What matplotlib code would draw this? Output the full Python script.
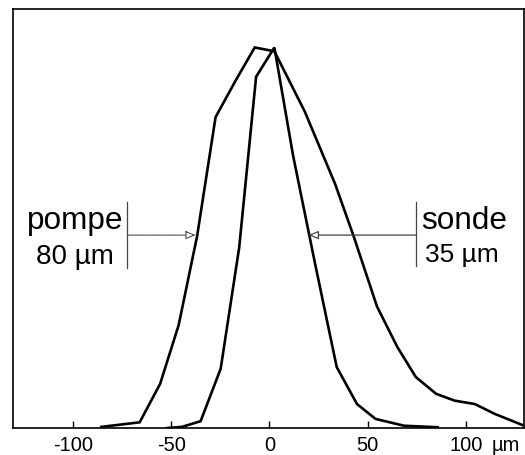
import matplotlib
matplotlib.use("Agg")
import matplotlib.pyplot as plt

plt.rcParams['font.family'] = ['Liberation Sans', 'DejaVu Sans']

# Pump profile (wide beam)
pump_x = [-85.5, -66, -55.6, -46.2, -36.8, -27.4, -17.1, -7.5, 2.5, 18, 33.4, 42.8,
          54.7, 65, 74.4, 84.7, 94.1, 104.4, 114.6, 129.5]
pump_y = [0.003, 0.015, 0.116, 0.27, 0.504, 0.817, 0.914, 1.0, 0.99, 0.831, 0.641, 0.504,
          0.319, 0.213, 0.134, 0.09, 0.072, 0.063, 0.037, 0.006]

# Probe profile (narrow beam)
probe_x = [-52, -44.5, -35, -24.8, -15.4, -6.8, 2.5, 12, 23.1, 34.2, 44.5, 53.9, 68.4, 85.5]
probe_y = [0.0, 0.003, 0.018, 0.156, 0.474, 0.923, 1.0, 0.716, 0.434, 0.16, 0.063, 0.024, 0.006, 0.002]

xticks = [-100, -50, 0, 50, 100]
xtick_labels = ['-100', '-50', '0', '50', '100']

fig = plt.figure(figsize=(5.25, 4.55), dpi=100)
ax = fig.add_axes([0.0244, 0.0593, 0.974, 0.92])

ax.plot(pump_x, pump_y, color='black', lw=1.9, solid_joinstyle='miter')
ax.plot(probe_x, probe_y, color='black', lw=1.9, solid_joinstyle='miter')

ax.set_xlim(-130.5, 129.5)
ax.set_ylim(0, 1.1)
ax.set_xticks(xticks)
ax.set_xticklabels(xtick_labels)
ax.set_yticks([])
ax.tick_params(axis='x', direction='in', length=5, width=1, labelsize=14.5, pad=6)
for s in ax.spines.values():
    s.set_linewidth(1.2)

# unit label next to the last tick label
ax.annotate('µm', xy=(120, 0), xycoords=('data', 'axes fraction'),
            xytext=(0, -6), textcoords='offset points',
            ha='center', va='top', fontsize=14.5, annotation_clip=False)

# pump annotation (left)
ax.plot([-72.2, -72.2], [0.42, 0.595], color='#444', lw=0.9)
ax.annotate('', xy=(-37.5, 0.507), xytext=(-72.2, 0.507),
            arrowprops=dict(arrowstyle='-|>,head_length=0.6,head_width=0.25',
                            lw=0.8, color='#555', fc='white', ls=(0, (1, 0.6)),
                            shrinkA=0, shrinkB=0))
ax.text(-74, 0.545, 'pompe', ha='right', va='center', fontsize=22.7)
ax.text(-79, 0.45, '80 µm', ha='right', va='center', fontsize=20)

# probe annotation (right)
ax.plot([74.4, 74.4], [0.425, 0.595], color='#444', lw=0.9)
ax.annotate('', xy=(19.8, 0.507), xytext=(74.4, 0.507),
            arrowprops=dict(arrowstyle='-|>,head_length=0.6,head_width=0.25',
                            lw=0.9, color='#444', fc='white',
                            shrinkA=0, shrinkB=0))
ax.text(77, 0.545, 'sonde', ha='left', va='center', fontsize=22.7)
ax.text(79, 0.455, '35 µm', ha='left', va='center', fontsize=19)

fig.savefig('out.png', dpi=100)
